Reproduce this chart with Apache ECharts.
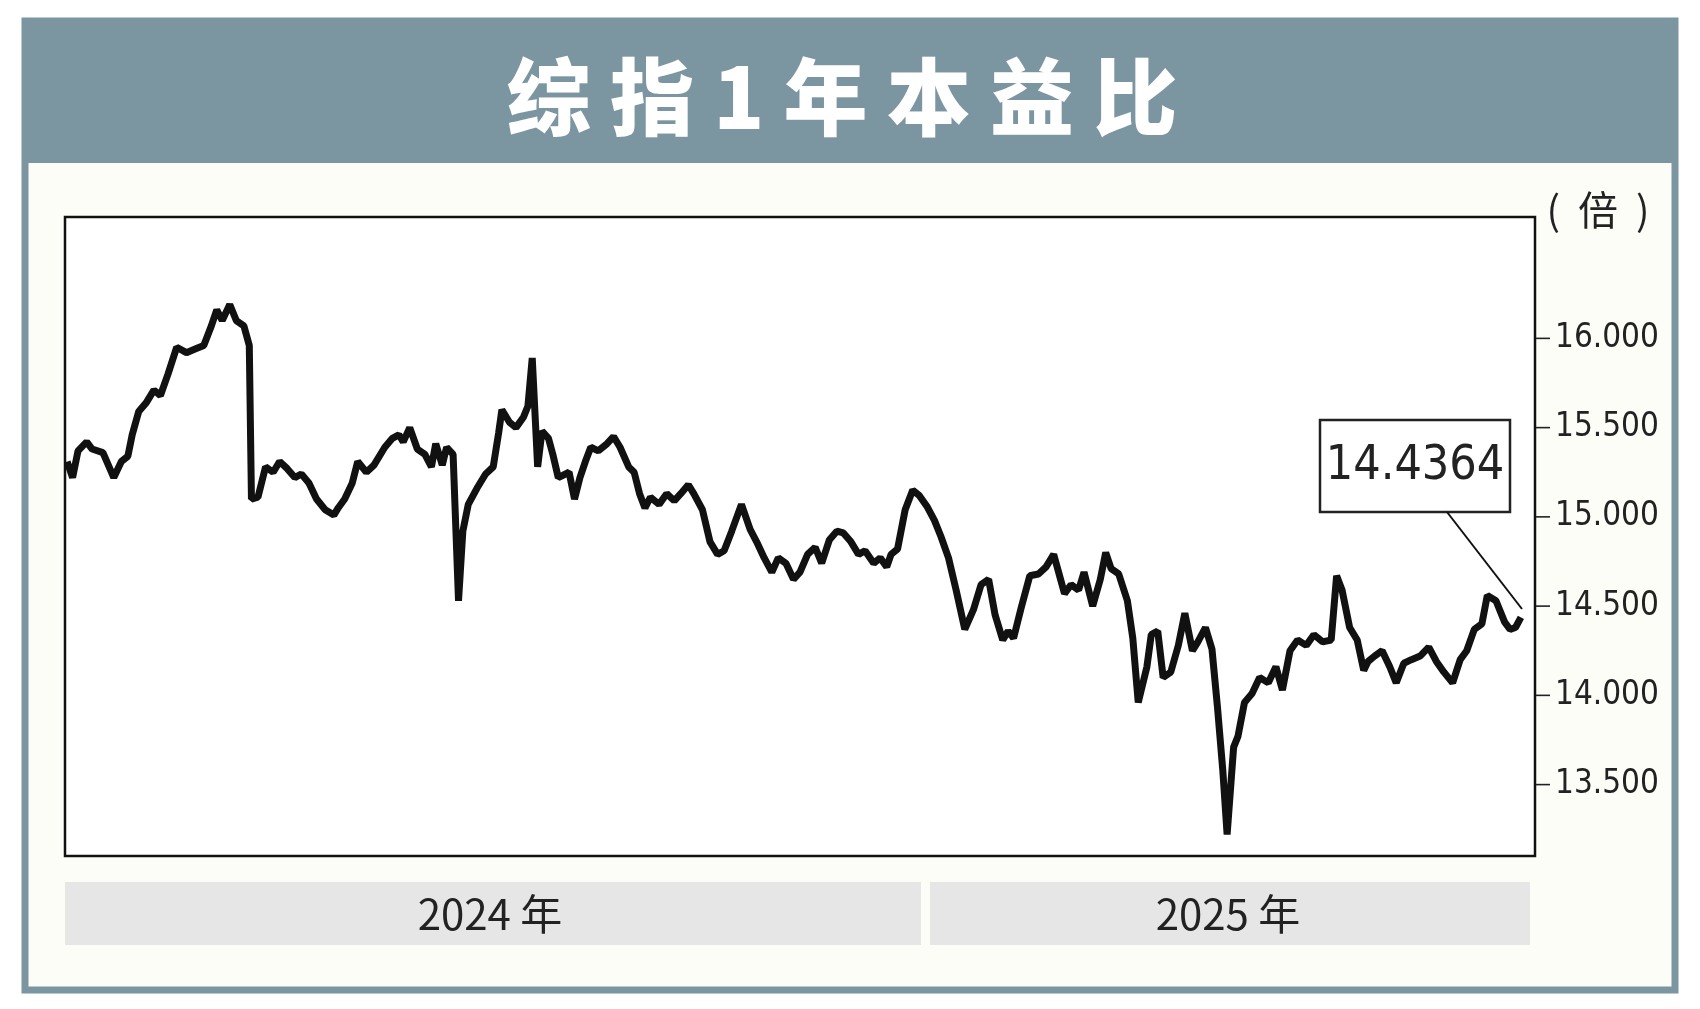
<!DOCTYPE html>
<html><head><meta charset="utf-8">
<script src="https://cdn.jsdelivr.net/npm/echarts@6/dist/echarts.min.js"></script>
<style>html,body{margin:0;padding:0;background:#fff}#c{width:1700px;height:1009px}</style>
</head><body><div id="c"></div>
<script>
const title = '综 指 1 年 本 益 比';
const unitLabel = '(  倍  )';
const yearLabels = ['2024 年', '2025 年'];
const lastValueText = '14.4364';
const tickValues = [13.5, 14.0, 14.5, 15.0, 15.5, 16.0];
// position along the year (0..1356 scale) and P/E value
const dayPos = [2,7,12,20,25,35,45,52,58,62,68,75,82,88,95,103,112,120,128,135,140,145,152,158,165,170,172,178,185,192,198,205,212,218,225,232,240,248,252,258,265,270,278,285,295,302,308,312,318,325,332,338,342,348,352,358,363,367,372,380,388,395,400,403,410,416,423,427,431,436,440,446,450,455,465,470,475,480,485,492,500,506,512,520,525,530,535,540,548,555,562,568,575,580,588,595,602,608,615,624,632,638,645,652,658,665,672,678,685,692,698,705,712,718,725,732,738,746,752,758,762,768,775,782,788,795,802,808,815,822,830,838,845,852,858,865,870,875,882,890,898,905,912,917,922,928,935,940,948,955,960,965,972,980,985,990,998,1002,1008,1013,1020,1027,1033,1040,1045,1052,1058,1063,1068,1072,1078,1082,1088,1095,1102,1110,1117,1123,1130,1137,1145,1152,1160,1168,1173,1178,1185,1192,1198,1202,1208,1215,1222,1228,1235,1242,1250,1258,1265,1272,1280,1287,1293,1300,1307,1312,1320,1328,1333,1338,1343,1348];
const peValues = [15.31,15.22,15.37,15.42,15.38,15.36,15.22,15.31,15.34,15.46,15.59,15.64,15.71,15.68,15.80,15.95,15.92,15.94,15.96,16.07,16.16,16.10,16.19,16.10,16.07,15.96,15.10,15.11,15.28,15.25,15.31,15.27,15.22,15.24,15.19,15.10,15.04,15.01,15.05,15.10,15.19,15.31,15.25,15.29,15.39,15.44,15.46,15.42,15.50,15.38,15.35,15.28,15.41,15.29,15.39,15.35,14.53,14.92,15.07,15.16,15.24,15.28,15.47,15.60,15.53,15.50,15.56,15.62,15.89,15.28,15.48,15.44,15.35,15.22,15.25,15.10,15.22,15.31,15.39,15.37,15.41,15.45,15.39,15.28,15.25,15.13,15.05,15.11,15.07,15.13,15.09,15.13,15.18,15.13,15.04,14.86,14.79,14.81,14.92,15.07,14.93,14.86,14.77,14.69,14.77,14.74,14.65,14.69,14.79,14.83,14.74,14.87,14.92,14.91,14.86,14.79,14.81,14.74,14.77,14.72,14.79,14.82,15.04,15.15,15.12,15.06,14.98,14.89,14.77,14.59,14.37,14.48,14.62,14.65,14.45,14.31,14.36,14.32,14.49,14.67,14.68,14.72,14.79,14.68,14.57,14.62,14.59,14.69,14.50,14.65,14.80,14.71,14.68,14.53,14.32,13.96,14.16,14.34,14.36,14.10,14.13,14.28,14.46,14.25,14.30,14.38,14.26,13.94,13.58,13.22,13.71,13.77,13.96,14.01,14.10,14.07,14.16,14.03,14.25,14.31,14.28,14.34,14.30,14.31,14.67,14.59,14.38,14.31,14.14,14.19,14.22,14.25,14.16,14.07,14.18,14.20,14.22,14.27,14.19,14.13,14.07,14.20,14.25,14.37,14.40,14.56,14.53,14.41,14.37,14.38,14.4364];

const chart = echarts.init(document.getElementById('c'), null, {renderer: 'canvas'});
const data = dayPos.map((d, i) => [d, peValues[i]]);
const border = '#7b95a1';
const L = 65, R = 1535, T = 217, B = 856;
const narrow = '"Liberation Sans Narrow","DejaVu Sans Condensed",sans-serif';
const cjkNarrow = '"Liberation Sans Narrow","Noto Sans CJK SC",sans-serif';

chart.setOption({
  animation: false,
  backgroundColor: '#fdfdf8',
  grid: {left: L, right: 1700 - R, top: T, bottom: 1009 - B, show: true, borderColor: '#111', borderWidth: 2.5, backgroundColor: '#fff'},
  xAxis: {type: 'value', min: 0, max: 1356, show: false},
  yAxis: {
    type: 'value', position: 'right', min: 13.1, max: 16.68,
    splitLine: {show: false},
    axisLine: {show: false},
    axisTick: {show: false},
    axisLabel: {customValues: tickValues, formatter: v => v.toFixed(3), color: '#222', fontSize: 33, margin: 20, fontFamily: narrow}
  },
  series: [{type: 'line', data: data, symbol: 'none', lineStyle: {color: '#111', width: 7}, z: 5}]
});
const last = data[data.length - 1];
let ep = chart.convertToPixel({seriesIndex: 0}, last);
if (!ep || !Number.isFinite(ep[0]) || !Number.isFinite(ep[1])) ep = [1525, 617];
const tickEls = tickValues.map((v, i) => {
  const y = chart.convertToPixel({yAxisIndex: 0}, v);
  return {id: 'tick' + i, type: 'polyline', shape: {points: [[R + 1, y], [R + 15, y]]}, style: {stroke: '#222', lineWidth: 1.6, fill: null}};
});
chart.setOption({graphic: [
  {id: 'frameOut', type: 'rect', silent: true, shape: {x: 0, y: 0, width: 1700, height: 1009}, style: {fill: null, stroke: '#fff', lineWidth: 44}},
  {id: 'frame', type: 'rect', shape: {x: 25, y: 21, width: 1650, height: 969}, style: {fill: null, stroke: border, lineWidth: 7}},
  {id: 'head', type: 'rect', shape: {x: 22, y: 18, width: 1656, height: 145}, style: {fill: border}},
  {id: 'title', type: 'text', x: 842, y: 97, style: {text: title, fill: '#fff', font: '900 84px "Noto Sans CJK SC"', align: 'center', verticalAlign: 'middle'}},
  {id: 'unit', type: 'text', x: 1598, y: 210, style: {text: unitLabel, fill: '#222', font: '40px "Noto Sans CJK SC"', align: 'center', verticalAlign: 'middle'}},
  {id: 'y1', type: 'rect', shape: {x: 65, y: 882, width: 856, height: 63}, style: {fill: '#e6e6e6'}},
  {id: 'y2', type: 'rect', shape: {x: 930, y: 882, width: 600, height: 63}, style: {fill: '#e6e6e6'}},
  {id: 'y1t', type: 'text', x: 490, y: 914, style: {text: yearLabels[0], fill: '#222', font: '42px ' + cjkNarrow, align: 'center', verticalAlign: 'middle'}},
  {id: 'y2t', type: 'text', x: 1228, y: 914, style: {text: yearLabels[1], fill: '#222', font: '42px ' + cjkNarrow, align: 'center', verticalAlign: 'middle'}},
  {id: 'lead', type: 'polyline', z: 200, shape: {points: [[1447, 512], [ep[0] - 3, ep[1] - 8]]}, style: {stroke: '#111', lineWidth: 2, fill: null}},
  {id: 'box', type: 'rect', shape: {x: 1320, y: 420, width: 190, height: 92}, style: {fill: '#fff', stroke: '#222', lineWidth: 2.5}},
  {id: 'boxt', type: 'text', x: 1415, y: 467, style: {text: lastValueText, fill: '#222', font: '48px ' + narrow, align: 'center', verticalAlign: 'middle'}}
].concat(tickEls)});
</script></body></html>
